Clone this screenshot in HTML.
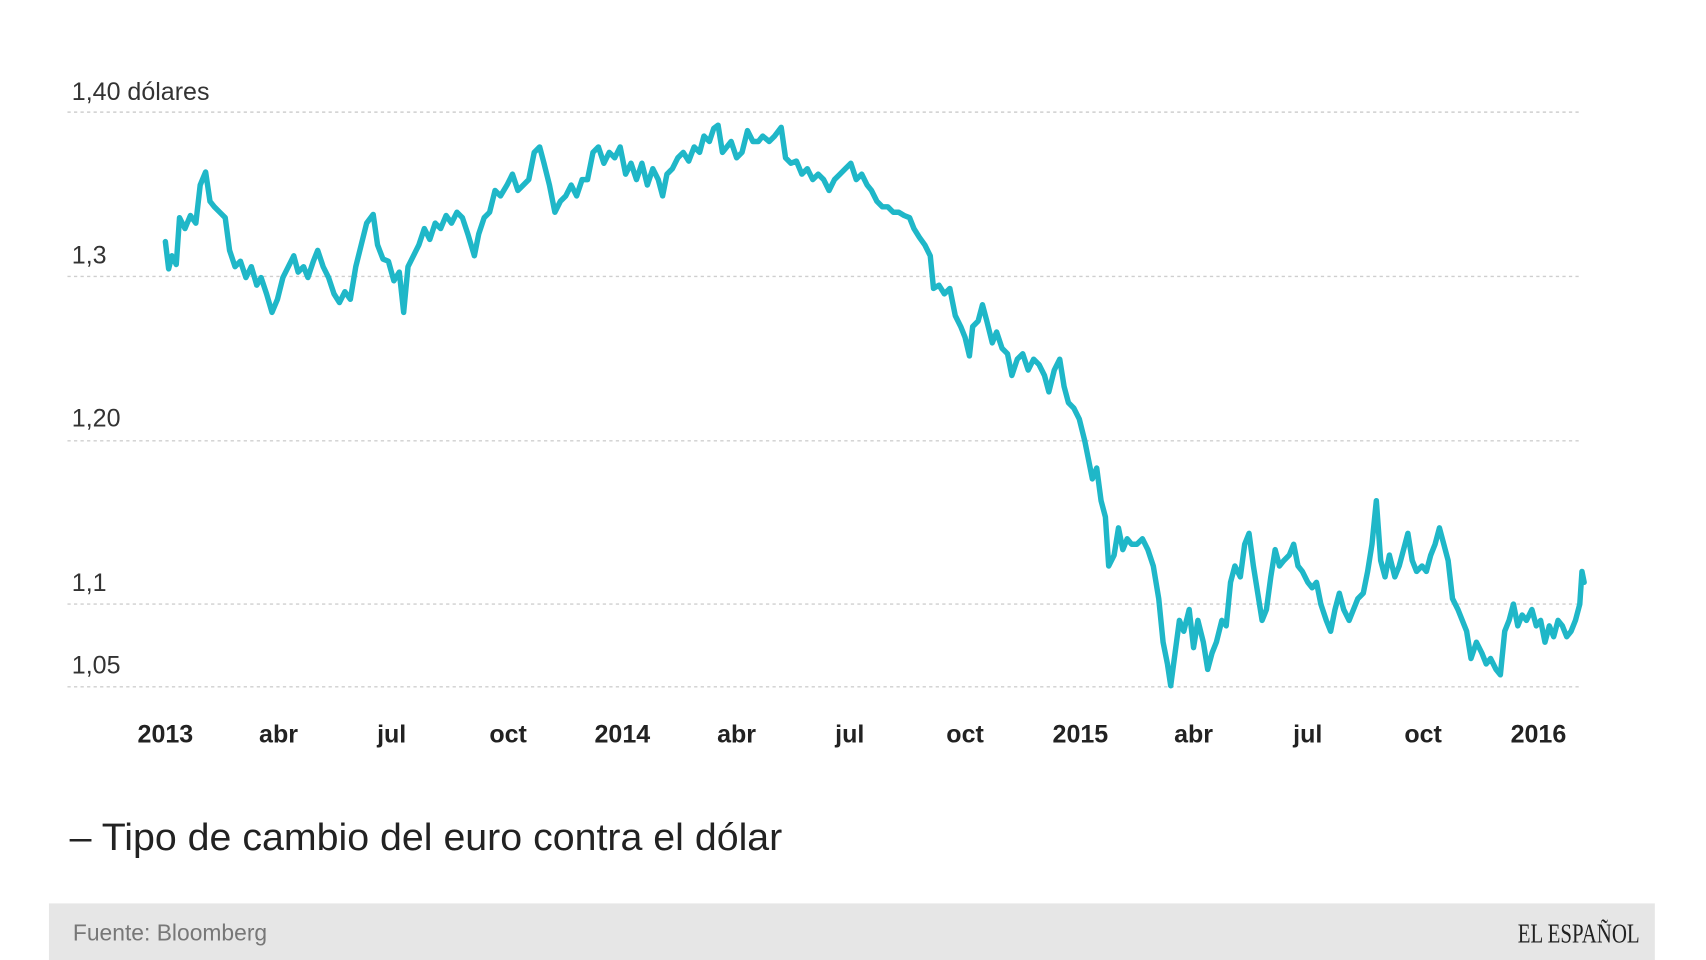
<!DOCTYPE html>
<html><head><meta charset="utf-8"><style>
html,body{margin:0;padding:0;background:#fff;width:1706px;height:960px;overflow:hidden}
svg{display:block}
</style></head><body>
<svg width="1706" height="960" viewBox="0 0 1568 882" preserveAspectRatio="none" xmlns="http://www.w3.org/2000/svg">
<rect width="1568" height="882" fill="#fff"/>
<g stroke="#cfcfcf" stroke-width="1.3" stroke-dasharray="3,3">
<line x1="62" x2="1453" y1="103" y2="103"/>
<line x1="62" x2="1453" y1="254" y2="254"/>
<line x1="62" x2="1453" y1="405" y2="405"/>
<line x1="62" x2="1453" y1="555" y2="555"/>
<line x1="62" x2="1453" y1="631" y2="631"/>
</g>
<g font-family="Liberation Sans, sans-serif" font-size="23" fill="#333">
<text x="66" y="92">1,40 dólares</text>
<text x="66" y="242">1,3</text>
<text x="66" y="392">1,20</text>
<text x="66" y="543">1,1</text>
<text x="66" y="619">1,05</text>
</g>
<g font-family="Liberation Sans, sans-serif" font-size="23" font-weight="bold" fill="#222" text-anchor="middle">
<text x="152" y="682">2013</text><text x="256" y="682">abr</text><text x="360" y="682">jul</text><text x="467" y="682">oct</text>
<text x="572" y="682">2014</text><text x="677" y="682">abr</text><text x="781" y="682">jul</text><text x="887" y="682">oct</text>
<text x="993" y="682">2015</text><text x="1097" y="682">abr</text><text x="1202" y="682">jul</text><text x="1308" y="682">oct</text>
<text x="1414" y="682">2016</text>
</g>
<polyline fill="none" stroke="#1fb7c8" stroke-width="5" stroke-linejoin="round" stroke-linecap="round" points="152,222 155,247 158,235 162,243 165,200 170,210 175,198 180,205 184,170 189,158 193,185 197,190 202,195 207,200 211,230 216,245 221,240 226,255 231,245 236,262 240,255 245,270 250,287 255,275 260,255 265,245 270,235 274,250 279,245 283,255 288,240 292,230 297,245 302,255 307,270 312,278 317,268 322,275 327,245 332,225 337,205 343,197 347,225 352,238 357,240 362,258 367,250 371,287 375,245 380,235 385,225 390,210 395,220 400,205 405,210 410,198 415,205 420,195 425,200 430,215 436,235 440,215 445,200 450,195 455,175 460,180 466,170 471,160 476,175 481,170 486,165 491,140 496,135 500,150 505,170 510,195 515,185 520,180 525,170 530,180 535,165 540,165 545,140 550,135 555,150 560,140 565,145 570,135 575,160 580,150 585,165 590,150 595,170 600,155 605,165 609,180 613,160 618,155 623,145 628,140 633,148 638,135 643,140 647,125 652,130 656,118 660,115 664,140 668,135 672,130 677,145 682,140 687,120 692,130 697,130 701,125 707,130 712,125 718,117 722,145 727,150 732,148 737,160 742,155 747,165 752,160 757,165 762,175 767,165 772,160 777,155 782,150 787,165 792,160 797,170 801,175 806,185 811,190 816,190 821,195 826,195 831,198 836,200 840,210 845,218 850,225 855,235 858,265 863,262 868,270 873,265 878,290 883,300 887,310 891,327 894,300 899,295 903,280 907,295 912,315 916,305 921,320 926,325 930,345 935,330 940,325 945,340 950,330 955,335 960,345 964,360 969,340 974,330 978,355 982,370 987,375 992,385 997,405 1000,420 1004,440 1008,430 1012,460 1016,475 1019,520 1024,510 1028,485 1032,505 1036,495 1040,500 1045,500 1050,495 1055,505 1060,520 1065,550 1069,590 1073,610 1076,630 1080,600 1084,570 1088,580 1093,560 1097,595 1101,570 1106,590 1110,615 1114,600 1118,590 1123,570 1127,575 1131,535 1135,520 1140,530 1144,500 1148,490 1152,520 1156,545 1160,570 1164,560 1168,530 1172,505 1176,520 1180,515 1185,510 1189,500 1193,520 1197,525 1202,535 1206,540 1210,535 1214,555 1219,570 1223,580 1227,560 1231,545 1235,560 1240,570 1244,560 1248,550 1253,545 1257,525 1261,500 1265,460 1269,515 1273,530 1277,510 1282,530 1286,520 1290,505 1294,490 1298,515 1302,525 1307,520 1311,525 1315,510 1319,500 1323,485 1327,500 1331,515 1335,550 1340,560 1344,570 1348,580 1352,605 1357,590 1362,600 1366,610 1370,605 1375,615 1379,620 1383,580 1387,570 1391,555 1395,575 1399,565 1403,570 1408,560 1412,575 1416,570 1420,590 1424,575 1428,585 1432,570 1436,575 1440,585 1444,580 1448,570 1452,555 1454,525 1456,535"/>
<text x="64" y="781" font-family="Liberation Sans, sans-serif" font-size="35" fill="#222" textLength="655" lengthAdjust="spacingAndGlyphs">– Tipo de cambio del euro contra el dólar</text>
<rect x="45" y="830" width="1476" height="52" fill="#e6e6e6"/>
<text x="67" y="864" font-family="Liberation Sans, sans-serif" font-size="21" fill="#777">Fuente: Bloomberg</text>
<text x="1507" y="866" text-anchor="end" font-family="Liberation Serif, serif" font-size="25" fill="#222" textLength="112" lengthAdjust="spacingAndGlyphs">EL ESPAÑOL</text>
</svg>
</body></html>
